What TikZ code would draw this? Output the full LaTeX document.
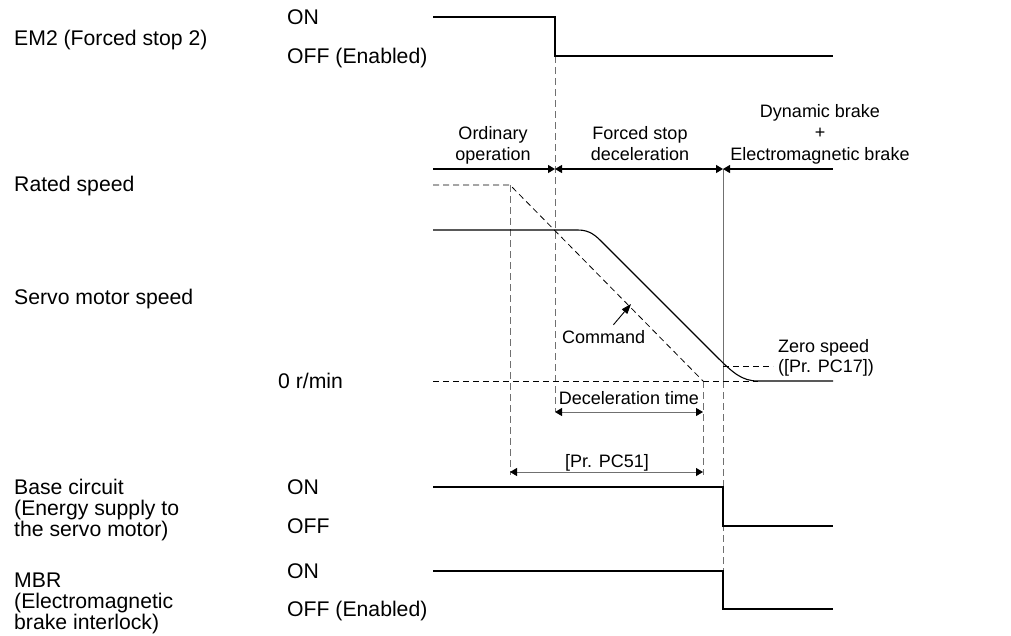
\documentclass[tikz,border=0pt]{standalone}
\usepackage{fontspec}
\setmainfont{Liberation Sans}
\usetikzlibrary{arrows.meta}
\definecolor{ink}{RGB}{0,0,0}
\definecolor{guide}{RGB}{112,112,112}

\begin{document}
\begin{tikzpicture}[
  x=1pt, y=-1pt,
  sig/.style={line width=1.1pt, draw=ink},
  ref/.style={dash pattern=on 6pt off 4pt, line width=0.8pt, draw=ink},
  gdash/.style={dash pattern=on 7pt off 4pt, line width=1pt, draw=guide},
  lab/.style={font=\fontsize{21.2}{21}\selectfont, inner sep=0pt, anchor=base west, align=left},
  note/.style={font=\fontsize{18}{21}\selectfont, inner sep=0pt, anchor=base, align=center},
  dim/.style={line width=1pt, draw=guide, {Triangle[length=7pt, width=8pt, color=ink]}-{Triangle[length=7pt, width=8pt, color=ink]}},
]
\useasboundingbox (0,0) rectangle (1011,635);

% ---- signal names (left column) ----
\node[lab] (em2) at (14,45) {EM2 (Forced stop 2)};
\node[lab] (rated) at (14,191) {Rated speed};
\node[lab] (servo) at (14,304) {Servo motor speed};
\node[lab] (base) at (14,536) {Base circuit\\(Energy supply to\\the servo motor)};
\node[lab] (mbr) at (14,629) {MBR\\(Electromagnetic\\brake interlock)};

% ---- levels ----
\node[lab] (emOn) at (287,24) {ON};
\node[lab] (emOff) at (287,63) {OFF (Enabled)};
\node[lab] (zeroLv) at (278,388) {0 r/min};
\node[lab] (bcOn) at (287,494) {ON};
\node[lab] (bcOff) at (287,533) {OFF};
\node[lab] (mbOn) at (287,578) {ON};
\node[lab] (mbOff) at (287,616) {OFF (Enabled)};

% ---- phases ----
\node[note] (ord) at (493,160) {Ordinary\\operation};
\node[note] (fsd) at (640,160) {Forced stop\\deceleration};
\node[note, font=\fontsize{18}{21.5}\selectfont] (dyn) at (820,160) {Dynamic brake\\+\\Electromagnetic brake};

% ---- annotations ----
\node[note, anchor=base west] (cmd) at (562,343) {Command};
\node[note, anchor=base west, align=left, font=\fontsize{18}{20}\selectfont] (zsp) at (778,372) {Zero speed\\([Pr. PC17])};
\node[note] (dect) at (629,404) {Deceleration time};
\node[note] (pc51) at (607,467) {[Pr. PC51]};

% ============ guides ============
\draw[gdash] (555,56) -- (555,412);
\draw[gdash] (510,185) -- (510,475);
\draw[gdash] (703,381) -- (703,475);
\draw[line width=1pt, guide] (723,169) -- (723,381);
\draw[gdash] (723,381) -- (723,571);

% ============ signals ============
% EM2
\draw[sig] (433,17) -- (555,17) -- (555,56) -- (833,56);
% phase line
\draw[sig, -{Triangle[length=7pt, width=8pt]}] (433,169) -- (555,169);
\draw[sig, {Triangle[length=7pt, width=8pt]}-{Triangle[length=7pt, width=8pt]}] (555,169) -- (723,169);
\draw[sig, {Triangle[length=7pt, width=8pt]}-] (723,169) -- (833,169);
% command and zero level
\draw[ref] (433,185) -- (510,185) -- (703,381);
\draw[ref] (433,381) -- (758,381);
\draw[ref] (723,366) -- (773,366);
% servo motor speed
\draw[sig] (433,230) -- (578,230) .. controls (590,230) and (596,236) .. (602,242)
  -- (716,356) .. controls (733,373) and (742,381) .. (758,381) -- (833,381);
% base circuit
\draw[sig] (433,487) -- (723,487) -- (723,526) -- (833,526);
% MBR
\draw[sig] (433,571) -- (723,571) -- (723,609) -- (833,609);

% ============ arrows ============
\draw[dim] (555,412) -- (703,412);
\draw[dim] (510,472) -- (703,472);
\draw[line width=0.9pt, -{Triangle[length=10pt, width=7pt]}] (cmd.north east) ++(-32,-5) -- (631,304);

\end{tikzpicture}
\end{document}
